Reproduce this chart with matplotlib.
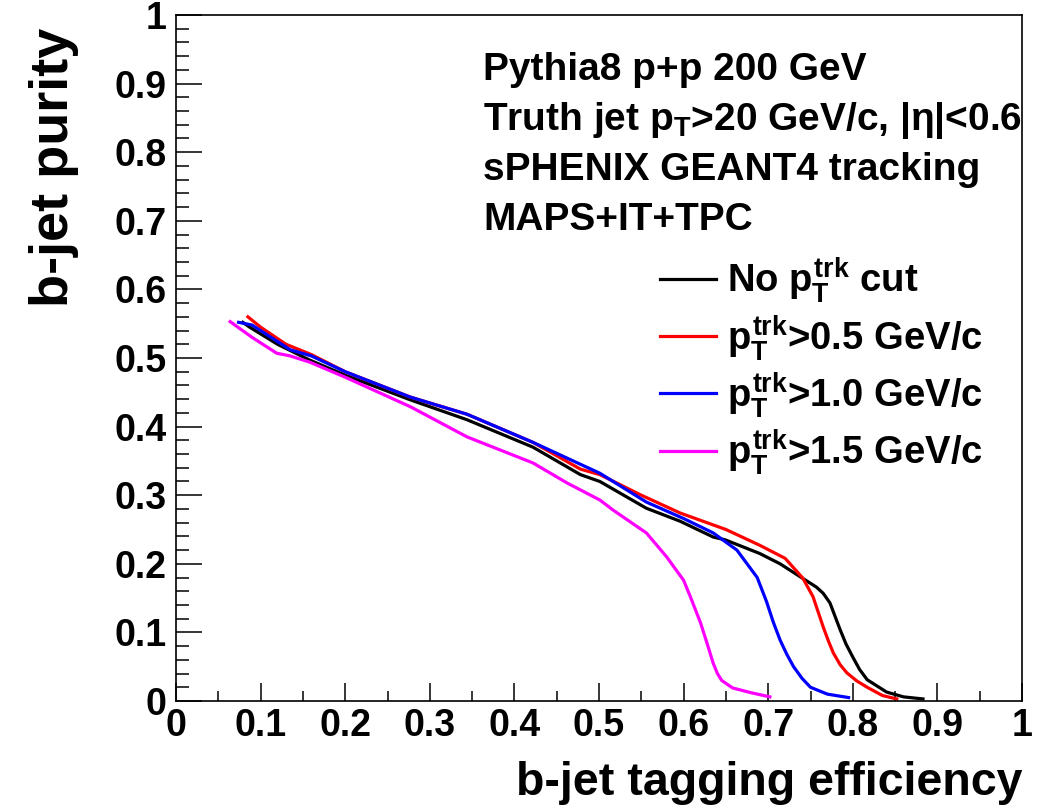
import matplotlib
matplotlib.use('Agg')
import matplotlib.pyplot as plt
from matplotlib.ticker import MultipleLocator

plt.rcParams['font.family'] = ['Liberation Sans', 'DejaVu Sans']
plt.rcParams['font.weight'] = 'bold'
plt.rcParams['mathtext.fontset'] = 'custom'
plt.rcParams['mathtext.rm'] = 'Liberation Sans:bold'
plt.rcParams['mathtext.it'] = 'Liberation Sans:bold'
plt.rcParams['mathtext.bf'] = 'Liberation Sans:bold'

# b-jet tagging efficiency vs purity
eff_nocut = [0.079, 0.087, 0.12, 0.158, 0.2, 0.277, 0.344, 0.422, 0.478, 0.501, 0.556, 0.596,
             0.635, 0.649, 0.69, 0.714, 0.738, 0.757, 0.765, 0.773, 0.785, 0.792, 0.80, 0.808,
             0.817, 0.84, 0.86, 0.883]
pur_nocut = [0.552, 0.545, 0.52, 0.497, 0.475, 0.439, 0.41, 0.37, 0.33, 0.32, 0.281, 0.262,
             0.239, 0.235, 0.215, 0.20, 0.181, 0.166, 0.157, 0.143, 0.104, 0.083, 0.064, 0.046,
             0.031, 0.013, 0.006, 0.003]

eff_05 = [0.085, 0.1, 0.13, 0.16, 0.2, 0.277, 0.344, 0.422, 0.478, 0.501, 0.55, 0.596, 0.65,
          0.69, 0.72, 0.741, 0.753, 0.759, 0.765, 0.771, 0.777, 0.785, 0.793, 0.805, 0.817,
          0.835, 0.852]
pur_05 = [0.56, 0.545, 0.52, 0.505, 0.48, 0.443, 0.418, 0.377, 0.338, 0.33, 0.30, 0.274, 0.25,
          0.227, 0.208, 0.179, 0.152, 0.13, 0.108, 0.088, 0.07, 0.053, 0.041, 0.029, 0.02,
          0.008, 0.003]

eff_10 = [0.074, 0.09, 0.135, 0.16, 0.2, 0.277, 0.344, 0.422, 0.501, 0.556, 0.6, 0.635,
          0.663, 0.687, 0.698, 0.706, 0.714, 0.722, 0.73, 0.74, 0.75, 0.77, 0.795]
pur_10 = [0.552, 0.548, 0.512, 0.503, 0.48, 0.443, 0.418, 0.377, 0.332, 0.29, 0.266, 0.245,
          0.22, 0.18, 0.145, 0.115, 0.089, 0.068, 0.05, 0.033, 0.02, 0.01, 0.005]

eff_15 = [0.064, 0.09, 0.119, 0.135, 0.158, 0.2, 0.277, 0.344, 0.422, 0.462, 0.501, 0.517,
          0.556, 0.58, 0.6, 0.608, 0.62, 0.628, 0.635, 0.64, 0.645, 0.652, 0.658, 0.68, 0.702]
pur_15 = [0.553, 0.53, 0.507, 0.503, 0.494, 0.472, 0.429, 0.385, 0.347, 0.318, 0.293, 0.278,
          0.245, 0.21, 0.176, 0.152, 0.114, 0.083, 0.055, 0.04, 0.03, 0.024, 0.019, 0.012, 0.006]

labels = [r'No $p_{T}^{trk}$ cut',
          r'$p_{T}^{trk}$>0.5 GeV/c',
          r'$p_{T}^{trk}$>1.0 GeV/c',
          r'$p_{T}^{trk}$>1.5 GeV/c']
colors = ['black', '#ff0000', '#0000ff', '#ff00ff']

info_lines = ['Pythia8 p+p 200 GeV',
              r'Truth jet $p_{T}$>20 GeV/c, |η|<0.6',
              'sPHENIX GEANT4 tracking',
              'MAPS+IT+TPC']

fig = plt.figure(figsize=(10.56, 8.05), dpi=100)
ax = fig.add_axes([176 / 1056, 104 / 805, 846 / 1056, 686 / 805])

series = [(eff_nocut, pur_nocut), (eff_05, pur_05), (eff_10, pur_10), (eff_15, pur_15)]
for (x, y), c, lab in zip(series, colors, labels):
    ax.plot(x, y, color=c, lw=2.3, label=lab, solid_joinstyle='round')

ax.set_xlim(0, 1)
ax.set_ylim(0, 1)
ax.xaxis.set_major_locator(MultipleLocator(0.1))
ax.xaxis.set_minor_locator(MultipleLocator(0.05))
ax.yaxis.set_major_locator(MultipleLocator(0.1))
ax.yaxis.set_minor_locator(MultipleLocator(0.02))
ax.xaxis.set_major_formatter(lambda v, p: '%g' % round(v, 2))
ax.yaxis.set_major_formatter(lambda v, p: '%g' % round(v, 2))

ax.tick_params(axis='both', which='both', direction='in', width=1.1, labelsize=27)
ax.tick_params(axis='y', which='major', length=19, pad=7)
ax.tick_params(axis='y', which='minor', length=9.5)
ax.tick_params(axis='x', which='major', length=13, pad=5)
ax.tick_params(axis='x', which='minor', length=7)
for s in ax.spines.values():
    s.set_linewidth(1.2)

ax.set_xlabel('b-jet tagging efficiency', fontsize=33.5, fontweight='bold', loc='right', labelpad=12)
ax.set_ylabel('b-jet purity', fontsize=39, fontweight='bold', loc='top')
ax.yaxis.set_label_coords(-0.115, 0.981)

ys = [0.905, 0.832, 0.759, 0.686]
for t, yy in zip(info_lines, ys):
    ax.text(0.363, yy, t, transform=ax.transAxes, fontsize=28, fontweight='bold', va='baseline')

ax.legend(loc='upper left', bbox_to_anchor=(0.55, 0.677), frameon=False, fontsize=27.5,
          handlelength=1.45, handletextpad=0.3, labelspacing=0.2, borderpad=0)

fig.savefig('out.png', dpi=100)
